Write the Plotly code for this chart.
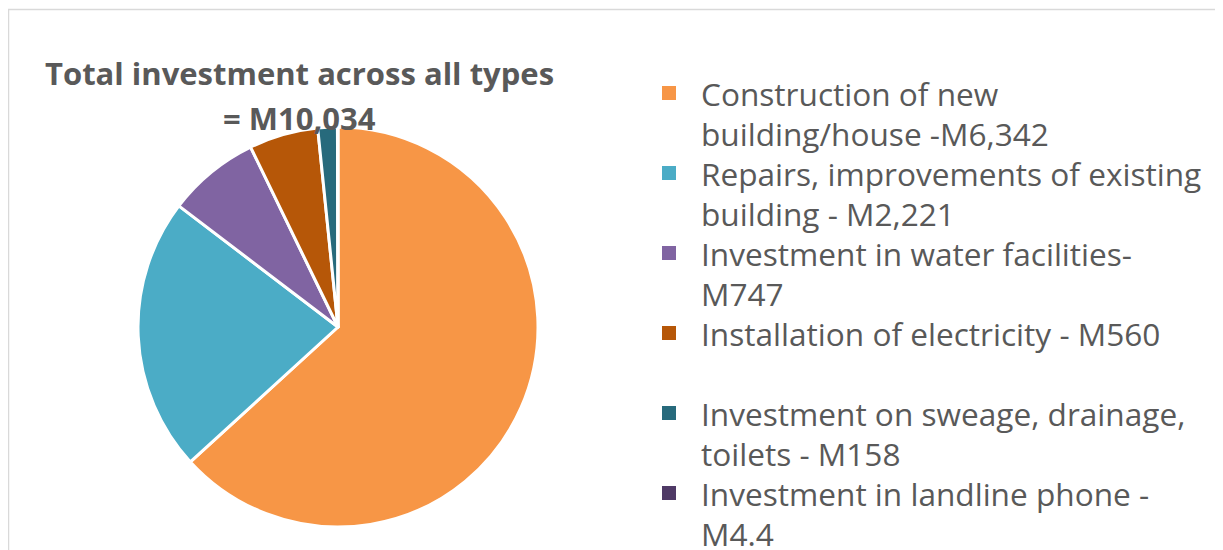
import plotly.graph_objects as go

# ---- data ----
categories = [
    "Construction of new building/house -M6,342",
    "Repairs, improvements of existing building - M2,221",
    "Investment in water facilities- M747",
    "Installation of electricity - M560",
    "Investment on sweage, drainage, toilets - M158",
    "Investment in landline phone - M4.4",
]
legend_lines = [
    ["Construction of new", "building/house -M6,342"],
    ["Repairs, improvements of existing", "building - M2,221"],
    ["Investment in water facilities-", "M747"],
    ["Installation of electricity - M560", ""],
    ["Investment on sweage, drainage,", "toilets - M158"],
    ["Investment in landline phone -", "M4.4"],
]
values = [6342, 2221, 747, 560, 158, 4.4]
colors = ["#F79646", "#4BACC6", "#8064A2", "#B65708", "#276A7C", "#4F3A66"]
title_lines = ["Total investment across all types", "= M10,034"]

W, H = 1223, 550
OFF = 8  # page body margin offset
TXT = "#595959"
FONT = "Open Sans"

def px(xs):
    return (xs - OFF) / W

def py(ys):
    return 1 - (ys - OFF) / H

fig = go.Figure()
cx, cy, r = 338, 327, 200
fig.add_trace(go.Pie(
    labels=categories, values=values, sort=False, direction="clockwise", rotation=0,
    marker=dict(colors=colors, line=dict(color="white", width=3)),
    textinfo="none", hoverinfo="label+value", showlegend=False,
    domain=dict(x=[px(cx - r), px(cx + r)], y=[py(cy + r), py(cy - r)]),
))

anns = []
shapes = []
# chart border
shapes.append(dict(type="rect", xref="paper", yref="paper", x0=px(8.5), x1=1.05, y0=-0.05, y1=py(9.5),
                   line=dict(color="#D9D9D9", width=1.5), fillcolor="rgba(0,0,0,0)", layer="below"))
# title
for i, t in enumerate(title_lines):
    anns.append(dict(text="<b>%s</b>" % t, x=px(299), y=py(73 + 45 * i), xref="paper", yref="paper",
                     xanchor="center", yanchor="middle", showarrow=False,
                     font=dict(family=FONT, size=31, color=TXT)))
# legend
for i, lines in enumerate(legend_lines):
    y0 = 93 + 80 * i
    shapes.append(dict(type="rect", xref="paper", yref="paper", x0=px(662), x1=px(676),
                       y0=py(y0 + 7), y1=py(y0 - 7), fillcolor=colors[i], line=dict(width=0)))
    for j, t in enumerate(lines):
        if not t:
            continue
        anns.append(dict(text=t, x=px(699), y=py(y0 + 40 * j), xref="paper", yref="paper",
                         xanchor="left", yanchor="middle", showarrow=False,
                         font=dict(family=FONT, size=31.6, color=TXT)))

fig.update_layout(width=W, height=H, margin=dict(l=0, r=0, t=0, b=0),
                  paper_bgcolor="white", plot_bgcolor="white",
                  annotations=anns, shapes=shapes, showlegend=False)
fig.write_html("out.html")
